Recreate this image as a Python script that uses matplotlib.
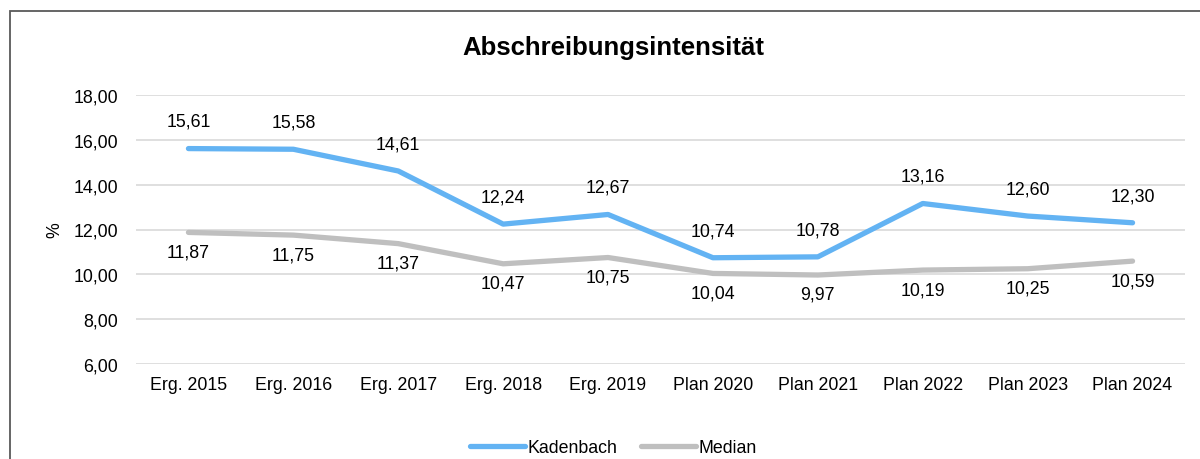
import matplotlib
matplotlib.use("Agg")
import matplotlib.pyplot as plt
from matplotlib.patches import Rectangle

plt.rcParams['font.family'] = ['Liberation Sans', 'DejaVu Sans']

categories = ["Erg. 2015", "Erg. 2016", "Erg. 2017", "Erg. 2018", "Erg. 2019",
              "Plan 2020", "Plan 2021", "Plan 2022", "Plan 2023", "Plan 2024"]
kadenbach = [15.61, 15.58, 14.61, 12.24, 12.67, 10.74, 10.78, 13.16, 12.60, 12.30]
median = [11.87, 11.75, 11.37, 10.47, 10.75, 10.04, 9.97, 10.19, 10.25, 10.59]
yticks = [6, 8, 10, 12, 14, 16, 18]

def fmt(v):
    return f"{v:.2f}".replace('.', ',')

fig = plt.figure(figsize=(12, 4.6), dpi=100)
ax = fig.add_axes([136/1200, 1-365/460, (1185-136)/1200, (365-96)/460])

x = list(range(len(categories)))
blue = '#63B3F3'
gray = '#BFBFBF'
ax.plot(x, kadenbach, color=blue, lw=3.8, solid_capstyle='round', solid_joinstyle='round', label='Kadenbach', zorder=3)
ax.plot(x, median, color=gray, lw=3.8, solid_capstyle='round', solid_joinstyle='round', label='Median', zorder=3)

for xi, v in zip(x, kadenbach):
    ax.annotate(fmt(v), (xi, v), xytext=(0, 19.5), textcoords='offset points',
                ha='center', va='center', fontsize=12.8, color='#000000')
for xi, v in zip(x, median):
    ax.annotate(fmt(v), (xi, v), xytext=(0, -14), textcoords='offset points',
                ha='center', va='center', fontsize=12.8, color='#000000')

ax.set_xlim(-0.5, len(categories) - 0.5)
ax.set_ylim(6, 18)
ax.set_yticks(yticks)
ax.set_yticklabels([fmt(t) for t in yticks], fontsize=12.8)
ax.set_xticks(x)
ax.set_xticklabels(categories, fontsize=12.8)
ax.tick_params(axis='both', length=0)
ax.tick_params(axis='y', pad=13)
ax.tick_params(axis='x', pad=9)
ax.grid(axis='y', color='#D9D9D9', lw=1.2)
ax.set_axisbelow(True)
for s in ax.spines.values():
    s.set_visible(False)

fig.text(55/1200, 0.5, '%', rotation=90, ha='center', va='center', fontsize=12.8)
fig.text(613/1200, 1-48/460, 'Abschreibungsintensität', ha='center', va='center',
         fontsize=18.5, fontweight='bold')

fig.legend(loc='center', bbox_to_anchor=(0.511, 1-449/460), ncol=2, frameon=False,
           fontsize=12.8, handlelength=3.1, handletextpad=0.15, columnspacing=1.3)

fig.patches.append(Rectangle((10/1200, -0.2), 1.5, 1.2 - 12/460, transform=fig.transFigure,
                             fill=False, edgecolor='#595959', lw=1.3))

fig.savefig('out.png', dpi=100)
